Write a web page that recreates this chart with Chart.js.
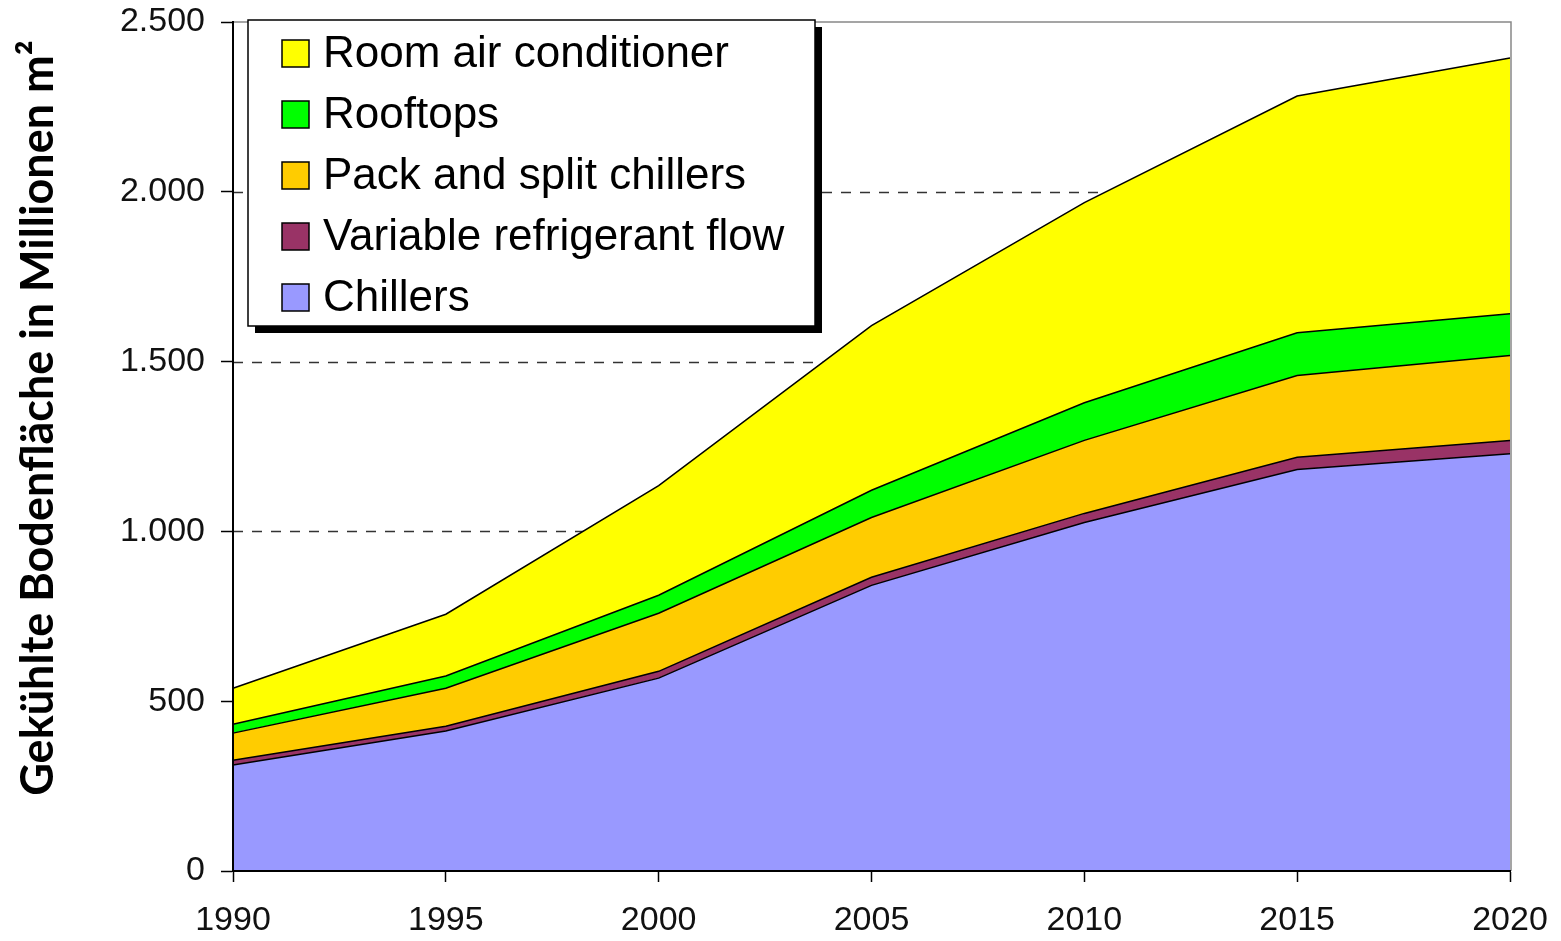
<!DOCTYPE html>
<html>
<head>
<meta charset="utf-8">
<script src="https://cdn.jsdelivr.net/npm/chart.js@4.4.0/dist/chart.umd.min.js"></script>
<style>
  html, body { margin: 0; padding: 0; background: #fff; }
  #wrap { width: 1561px; height: 941px; }
</style>
</head>
<body>
<div id="wrap"><canvas id="chart" width="1561" height="941"></canvas></div>
<script>
// Gekühlte Bodenfläche nach Systemtyp (Mio. m²), gestapelt
const years = ['1990', '1995', '2000', '2005', '2010', '2015', '2020'];

const chillers  = [312, 412, 568, 841, 1026, 1182, 1229];
const vrf       = [14, 14, 20, 24, 27, 36, 39];
const packSplit = [80, 112, 171, 176, 215, 241, 250];
const rooftops  = [26, 36, 53, 80, 111, 126, 123];
const roomAc    = [106, 182, 323, 485, 589, 697, 753];

const yMax = 2500;
const yStep = 500;
const yTitle = 'Gekühlte Bodenfläche in Millionen m²';

function fmt(v) {
    return String(v).replace(/\B(?=(\d{3})+(?!\d))/g, '.');
}

function area(label, data, color, fill) {
    return {
        label: label,
        data: data,
        backgroundColor: color,
        borderColor: '#000',
        borderWidth: 1.5,
        pointRadius: 0,
        tension: 0,
        fill: fill
    };
}

// gestrichelte Hilfslinien, Rahmen, Achsentitel und Legende
const extras = {
    id: 'extras',
    beforeDatasetsDraw(chart) {
        let ctx = chart.ctx;
        let a = chart.chartArea;
        let y = chart.scales.y;
        ctx.save();
        ctx.strokeStyle = '#333';
        ctx.lineWidth = 1.5;
        ctx.setLineDash([10, 9]);
        y.ticks.forEach(t => {
            if (t.value <= 0 || t.value >= yMax) return;
            let py = Math.round(y.getPixelForValue(t.value)) + 0.5;
            ctx.beginPath();
            ctx.moveTo(a.left, py);
            ctx.lineTo(a.right, py);
            ctx.stroke();
        });
        ctx.restore();
    },
    afterDatasetsDraw(chart) {
        let ctx = chart.ctx;
        let a = chart.chartArea;
        ctx.save();
        ctx.strokeStyle = '#888';
        ctx.lineWidth = 1.5;
        ctx.beginPath();
        ctx.moveTo(a.left, a.top);
        ctx.lineTo(a.right + 1, a.top);
        ctx.lineTo(a.right + 1, a.bottom);
        ctx.stroke();
        ctx.restore();
    },
    afterDraw(chart) {
        let ctx = chart.ctx;
        let a = chart.chartArea;
        ctx.save();

        // y-Achsentitel
        ctx.translate(38, 418);
        ctx.rotate(-Math.PI / 2);
        ctx.fillStyle = '#000';
        ctx.font = 'bold 45px Lato, "Open Sans", sans-serif';
        ctx.textAlign = 'center';
        ctx.textBaseline = 'middle';
        ctx.fillText(yTitle, 0, 0);
        ctx.setTransform(1, 0, 0, 1, 0, 0);

        // Legende
        let lx = a.left + 15, ly = 20, lw = 567, lh = 306;
        ctx.fillStyle = '#000';
        ctx.fillRect(lx + 7, ly + 7, lw, lh);
        ctx.fillStyle = '#fff';
        ctx.fillRect(lx, ly, lw, lh);
        ctx.strokeStyle = '#000';
        ctx.lineWidth = 1.5;
        ctx.strokeRect(lx, ly, lw, lh);

        let items = chart.data.datasets.slice().reverse();
        ctx.font = '44px "Liberation Sans", Arial, sans-serif';
        ctx.textAlign = 'left';
        ctx.textBaseline = 'middle';
        items.forEach((ds, i) => {
            let cy = ly + 33 + i * 61;
            ctx.fillStyle = ds.backgroundColor;
            ctx.fillRect(lx + 34, cy - 13, 27, 27);
            ctx.strokeStyle = '#000';
            ctx.lineWidth = 1.5;
            ctx.strokeRect(lx + 34, cy - 13, 27, 27);
            ctx.fillStyle = '#000';
            ctx.fillText(ds.label, lx + 75, cy + 2);
        });
        ctx.restore();
    }
};

const tickFont = { family: '"Liberation Sans", Arial, sans-serif', size: 34 };

new Chart(document.getElementById('chart'), {
    type: 'line',
    data: {
        labels: years,
        datasets: [
            area('Chillers', chillers, '#9999FF', 'origin'),
            area('Variable refrigerant flow', vrf, '#993366', '-1'),
            area('Pack and split chillers', packSplit, '#FFCC00', '-1'),
            area('Rooftops', rooftops, '#00FF00', '-1'),
            area('Room air conditioner', roomAc, '#FFFF00', '-1')
        ]
    },
    options: {
        responsive: false,
        animation: false,
        layout: { padding: { top: 22, right: 51, bottom: 0, left: 0 } },
        plugins: {
            legend: { display: false },
            tooltip: { enabled: false }
        },
        scales: {
            x: {
                offset: false,
                grid: { display: true, drawOnChartArea: false, tickLength: 11, tickColor: '#000', tickWidth: 1.5 },
                border: { display: true, color: '#000', width: 2, z: 1 },
                ticks: { font: tickFont, color: '#111', padding: 18, maxRotation: 0 },
                afterFit(scale) {
                    scale.height = 70;
                    scale.paddingLeft = 0;
                    scale.paddingRight = 0;
                }
            },
            y: {
                stacked: true,
                min: 0,
                max: yMax,
                grid: { display: true, drawOnChartArea: false, tickLength: 12, tickColor: '#000', tickWidth: 1.5 },
                border: { display: true, color: '#000', width: 2, z: 1 },
                ticks: { stepSize: yStep, font: tickFont, color: '#111', padding: 16, callback: v => fmt(v) },
                afterFit(scale) {
                    scale.width = 233;
                    scale.paddingTop = 0;
                    scale.paddingBottom = 0;
                }
            }
        }
    },
    plugins: [extras]
});
</script>
</body>
</html>
